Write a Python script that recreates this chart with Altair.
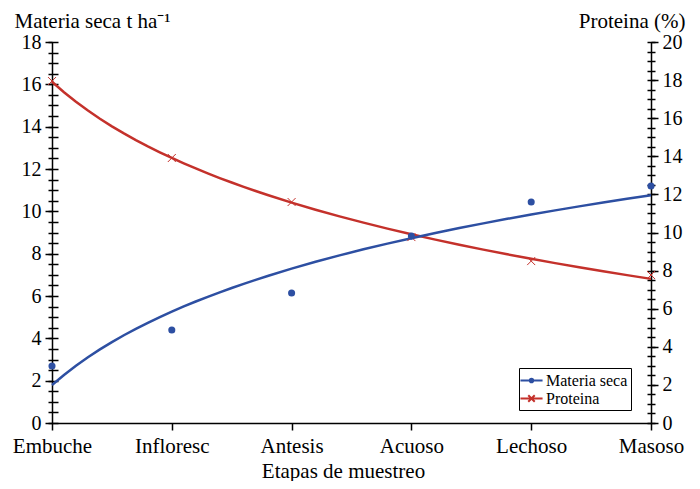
import json
import altair as alt
import pandas as pd

# ---- data ----
etapas = ["Embuche", "Infloresc", "Antesis", "Acuoso", "Lechoso", "Masoso"]
indice = [1, 2, 3, 4, 5, 6]
materia_seca = [2.69, 4.39, 6.14, 8.83, 10.44, 11.2]
proteina = [17.95, 13.91, 11.6, 9.76, 8.5, 7.77]
series = ["Materia seca", "Proteina"]

left_ticks = [v * 2 for v in range(10)]          # 0..18
left_minor = [v * 0.5 for v in range(37)]        # 0..18 by 0.5
right_ticks = [v * 2 for v in range(11)]         # 0..20
right_minor = [v * 0.5 for v in range(41)]       # 0..20 by 0.5

BLUE = "#2d4fa2"
RED = "#c4312b"
FONT = "Liberation Serif"

df = pd.DataFrame({"idx": indice, "etapa": etapas, "ms": materia_seca, "prot": proteina})
leg_df = pd.DataFrame({"serie": series})

label_expr = json.dumps(etapas) + "[datum.value - 1]"

x_enc = alt.X(
    "idx:Q",
    scale=alt.Scale(domain=[1, 6], nice=False, zero=False),
    axis=alt.Axis(
        values=indice, labelExpr=label_expr, title="Etapas de muestreo",
        tickSize=7, labelPadding=5, labelFlush=False, labelOverlap=False,
        labelFontSize=21, titleX=291, titleAlign="center",
        titleY=54, titleBaseline="alphabetic", grid=False,
    ),
)

left_scale = alt.Scale(domain=[0, 18], nice=False, zero=True)
right_scale = alt.Scale(domain=[0, 20], nice=False, zero=True)

left_main_axis = alt.Axis(
    orient="left", values=left_ticks, tickSize=7, labelPadding=4, grid=False,
    title="Materia seca t ha⁻¹", titleAngle=0, titleAlign="left",
    titleBaseline="alphabetic", titleX=-38, titleY=-15,
)
left_minor_axis = alt.Axis(
    orient="left", values=left_minor, tickSize=10, offset=-6, domain=False,
    labels=False, title=None, grid=False,
)
right_main_axis = alt.Axis(
    orient="right", values=right_ticks, tickSize=7, labelPadding=4, grid=False,
    title="Proteina (%)", titleAngle=0, titleAlign="right",
    titleBaseline="alphabetic", titleX=34, titleY=-15,
)
right_minor_axis = alt.Axis(
    orient="right", values=right_minor, tickSize=8, offset=-4, domain=False,
    labels=False, title=None, grid=False,
)

base = alt.Chart(df)

red_line = base.transform_regression("idx", "prot", method="log").mark_line(
    color=RED, strokeWidth=2.5
).encode(x=x_enc, y=alt.Y("prot:Q", scale=right_scale, axis=right_minor_axis))

red_pts = base.mark_point(
    shape="M-1,-1L1,1M-1,1L1,-1", size=64, color=RED, strokeWidth=1, filled=False, opacity=1
).encode(x=x_enc, y=alt.Y("prot:Q", scale=right_scale, axis=right_main_axis))

blue_line = base.transform_regression("idx", "ms", method="log").mark_line(
    color=BLUE, strokeWidth=2.5
).encode(x=x_enc, y=alt.Y("ms:Q", scale=left_scale, axis=left_minor_axis))

blue_pts = base.mark_circle(size=50, color=BLUE, opacity=1).encode(
    x=x_enc, y=alt.Y("ms:Q", scale=left_scale, axis=left_main_axis)
)

legend_props = dict(
    title=None, orient="none", legendX=467, legendY=326,
    strokeColor="black", fillColor="white", padding=3,
    labelFont=FONT, labelFontSize=16, labelColor="black", labelOffset=5,
    symbolSize=289, symbolStrokeWidth=2, symbolOpacity=1, rowPadding=0,
)
legend_layer = alt.Chart(leg_df).mark_point(
    filled=False, opacity=0, size=289, strokeWidth=2
).encode(
    x=alt.value(0), y=alt.value(0),
    color=alt.Color("serie:N", scale=alt.Scale(domain=series, range=[BLUE, RED]),
                    legend=alt.Legend(**legend_props)),
    shape=alt.Shape("serie:N", scale=alt.Scale(
        domain=series,
        range=[
            "M-1.3,0L1.3,0M-0.22,0A0.22,0.22,0,1,1,0.22,0A0.22,0.22,0,1,1,-0.22,0Z",
            "M-1.3,0L1.3,0M-0.38,-0.38L0.38,0.38M-0.38,0.38L0.38,-0.38",
        ]), legend=alt.Legend(**legend_props)),
)

chart = alt.layer(
    red_line, blue_line, red_pts, blue_pts, legend_layer
).resolve_scale(y="independent").resolve_axis(y="independent").properties(
    width=599, height=381,
    autosize=alt.AutoSizeParams(type="none"),
    padding={"left": 44, "top": 34, "right": 40, "bottom": 58},
).configure_view(stroke=None).configure_axis(
    labelFont=FONT, labelFontSize=20, labelColor="black",
    titleFont=FONT, titleFontSize=21, titleFontWeight="normal", titleColor="black",
    domainColor="black", domainWidth=1.5, tickColor="black", tickWidth=1.5,
)

chart.save("out.html", embed_options={"renderer": "svg", "actions": False})
